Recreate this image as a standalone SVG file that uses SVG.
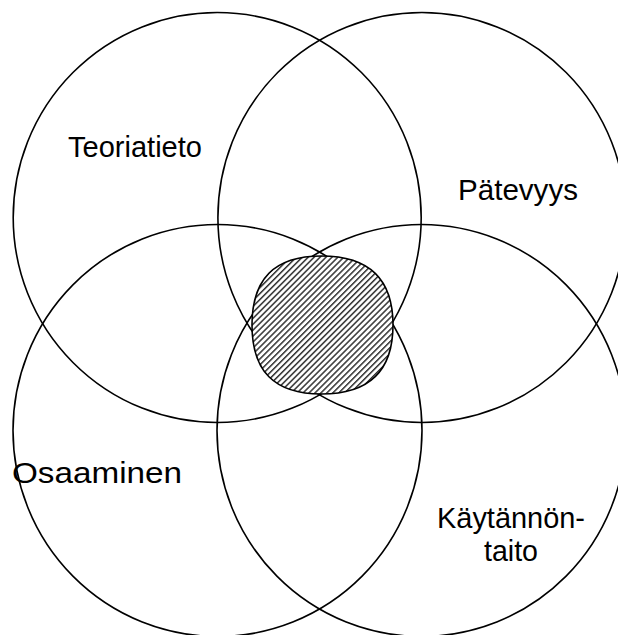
<svg xmlns="http://www.w3.org/2000/svg" width="618" height="635" viewBox="0 0 618 635">
<defs>
<pattern id="hatch" width="4.2" height="4.2" patternUnits="userSpaceOnUse" patternTransform="rotate(45)">
<rect width="4.2" height="4.2" fill="#fff"/>
<rect width="1.5" height="4.2" fill="#333"/>
</pattern>
<style>
.c{fill:none;stroke:#000;stroke-width:1.6}
.t{font-family:"Liberation Sans",Arial,sans-serif;font-size:29px;fill:#000}
</style>
</defs>
<rect width="618" height="635" fill="#fff"/>
<g id="circle-teoriatieto"><ellipse class="c" cx="217.2" cy="217.5" rx="204" ry="205"/></g>
<g id="circle-patevyys"><ellipse class="c" cx="421.9" cy="217.5" rx="204" ry="205"/></g>
<g id="circle-osaaminen"><ellipse class="c" cx="217.5" cy="430.5" rx="204.5" ry="206"/></g>
<g id="circle-kaytannontaito"><ellipse class="c" cx="421.5" cy="430.5" rx="204.5" ry="206"/></g>
<g id="core">
<path d="M321.5,256 C369,256 393,279 393,325 C393,371 369,394 321.5,394 C274,394 252,371 252,325 C252,279 274,256 321.5,256 Z" fill="url(#hatch)" stroke="#000" stroke-width="1.6"/>
</g>
<g id="labels">
<text class="t" x="68" y="157" textLength="134" lengthAdjust="spacingAndGlyphs">Teoriatieto</text>
<text class="t" x="458" y="200" textLength="120" lengthAdjust="spacingAndGlyphs">Pätevyys</text>
<text class="t" x="12" y="483" textLength="170" lengthAdjust="spacingAndGlyphs">Osaaminen</text>
<text class="t" x="437" y="528" textLength="148" lengthAdjust="spacingAndGlyphs">Käytännön-</text>
<text class="t" x="484" y="561" textLength="54" lengthAdjust="spacingAndGlyphs">taito</text>
</g>
</svg>
